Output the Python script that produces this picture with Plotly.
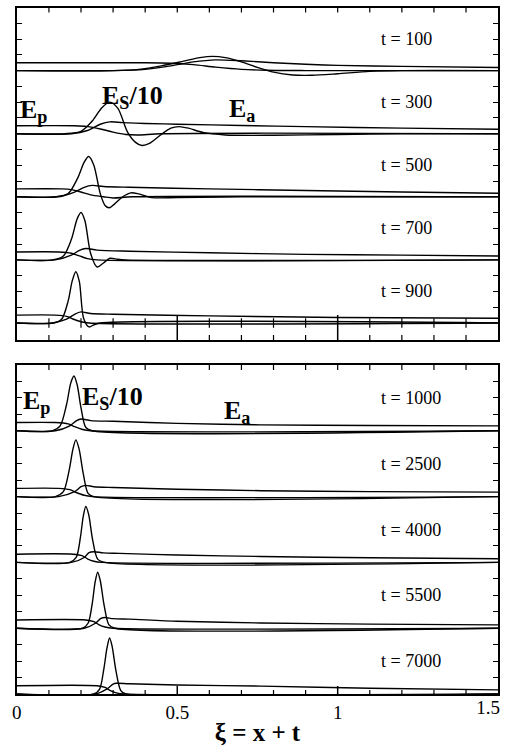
import plotly.graph_objects as go

# ---------------- data ----------------
# each curve: (xi values, field value in strip units; Es is shown divided by 10)
t100_Ep = ([0, 0.40, 0.48, 0.55, 0.62, 0.70, 0.78, 0.90, 1.5],
           [0.5, 0.5, 0.47, 0.38, 0.22, 0.08, 0.02, 0, 0])
t100_Es = ([0, 0.30, 0.38, 0.45, 0.52, 0.57, 0.61, 0.65, 0.70, 0.75, 0.80, 0.86, 0.92, 1.0, 1.1, 1.2, 1.5],
           [0, 0, 0.08, 0.3, 0.6, 0.82, 0.9, 0.82, 0.55, 0.2, -0.1, -0.28, -0.3, -0.2, -0.05, 0, 0])
t100_Ea = ([0, 0.30, 0.40, 0.48, 0.55, 0.62, 0.70, 0.80, 0.90, 1.0, 1.2, 1.5],
           [0, 0, 0.08, 0.3, 0.55, 0.68, 0.62, 0.5, 0.4, 0.33, 0.27, 0.2])

t300_Ep = ([0, 0.18, 0.22, 0.26, 0.30, 0.34, 0.38, 0.45, 1.5],
           [0.5, 0.5, 0.45, 0.3, 0.1, -0.05, -0.08, 0, 0])
t300_Es = ([0, 0.15, 0.20, 0.235, 0.265, 0.29, 0.315, 0.345, 0.37, 0.39, 0.415, 0.45, 0.48, 0.505, 0.535, 0.58, 0.65, 0.8, 1.0, 1.2, 1.5],
           [0, 0, 0.15, 0.8, 1.65, 2.0, 1.6, 0.1, -0.55, -0.75, -0.6, -0.05, 0.35, 0.45, 0.35, 0.08, -0.08, -0.1, -0.05, 0, 0])
t300_Ea = ([0, 0.17, 0.22, 0.26, 0.29, 0.33, 0.40, 0.50, 0.70, 0.90, 1.2, 1.5],
           [0, 0, 0.2, 0.6, 0.75, 0.7, 0.65, 0.6, 0.52, 0.45, 0.35, 0.28])

t500_Ep = ([0, 0.14, 0.17, 0.20, 0.23, 0.27, 0.30, 0.36, 1.5],
           [0.5, 0.5, 0.45, 0.3, 0.12, 0, -0.08, 0, 0])
t500_Es = ([0, 0.12, 0.16, 0.19, 0.21, 0.224, 0.24, 0.26, 0.275, 0.288, 0.305, 0.33, 0.355, 0.38, 0.42, 0.5, 0.7, 1.5],
           [0, 0, 0.2, 1.2, 2.2, 2.55, 2.0, 0.2, -0.55, -0.7, -0.45, 0, 0.25, 0.18, -0.05, -0.05, 0, 0])
t500_Ea = ([0, 0.13, 0.18, 0.21, 0.235, 0.27, 0.35, 0.60, 0.90, 1.2, 1.5],
           [0, 0, 0.3, 0.6, 0.72, 0.65, 0.6, 0.5, 0.4, 0.3, 0.22])

t700_Ep = ([0, 0.13, 0.17, 0.195, 0.22, 0.25, 1.5],
           [0.5, 0.5, 0.42, 0.25, 0.08, 0, 0])
t700_Es = ([0, 0.11, 0.145, 0.17, 0.188, 0.20, 0.212, 0.23, 0.25, 0.27, 0.29, 0.31, 0.34, 1.5],
           [0, 0, 0.25, 1.3, 2.6, 3.0, 2.5, 0.4, -0.45, -0.2, 0.1, 0.05, 0, 0])
t700_Ea = ([0, 0.12, 0.17, 0.195, 0.215, 0.25, 0.35, 0.60, 0.90, 1.2, 1.5],
           [0, 0, 0.3, 0.6, 0.72, 0.62, 0.55, 0.45, 0.35, 0.3, 0.25])

t900_Ep = ([0, 0.12, 0.155, 0.175, 0.20, 0.225, 1.5],
           [0.5, 0.5, 0.42, 0.25, 0.08, 0, 0])
t900_Es = ([0, 0.115, 0.14, 0.16, 0.173, 0.184, 0.195, 0.208, 0.225, 0.24, 0.26, 1.5],
           [0, 0, 0.25, 1.4, 2.7, 3.25, 2.6, 0.3, -0.25, -0.12, 0, 0])
t900_Ea = ([0, 0.11, 0.155, 0.18, 0.20, 0.23, 0.30, 0.60, 1.0, 1.5],
           [0, 0, 0.25, 0.55, 0.7, 0.6, 0.55, 0.45, 0.35, 0.3])

t1000_Ep = ([0, 0.12, 0.16, 0.18, 0.205, 0.23, 1.5],
            [0.5, 0.5, 0.42, 0.25, 0.08, 0, 0])
t1000_Es = ([0, 0.11, 0.135, 0.155, 0.168, 0.178, 0.188, 0.20, 0.215, 0.235, 1.5],
            [0, 0, 0.3, 1.6, 2.9, 3.33, 2.8, 1.4, 0.2, 0, 0])
t1000_Ea = ([0, 0.12, 0.165, 0.185, 0.20, 0.23, 0.30, 0.50, 0.76, 1.1, 1.5],
            [0, 0, 0.3, 0.6, 0.72, 0.62, 0.58, 0.45, 0.36, 0.32, 0.3])

t2500_Ep = ([0, 0.13, 0.165, 0.185, 0.21, 0.235, 1.5],
            [0.5, 0.5, 0.42, 0.25, 0.08, 0, 0])
t2500_Es = ([0, 0.12, 0.145, 0.163, 0.175, 0.184, 0.194, 0.207, 0.222, 0.24, 1.5],
            [0, 0, 0.3, 1.6, 2.9, 3.45, 2.9, 1.4, 0.2, 0, 0])
t2500_Ea = ([0, 0.13, 0.18, 0.20, 0.215, 0.24, 0.30, 0.50, 0.76, 1.1, 1.5],
            [0, 0, 0.3, 0.6, 0.68, 0.6, 0.55, 0.45, 0.36, 0.3, 0.27])

t4000_Ep = ([0, 0.175, 0.205, 0.22, 0.24, 0.265, 1.5],
            [0.5, 0.5, 0.4, 0.22, 0.07, 0, 0])
t4000_Es = ([0, 0.165, 0.185, 0.198, 0.207, 0.215, 0.224, 0.236, 0.252, 0.275, 1.5],
            [0, 0, 0.3, 1.5, 2.8, 3.4, 2.9, 1.4, 0.2, 0, 0])
t4000_Ea = ([0, 0.17, 0.21, 0.225, 0.24, 0.27, 0.32, 0.50, 0.76, 1.1, 1.5],
            [0, 0, 0.3, 0.6, 0.65, 0.58, 0.55, 0.45, 0.36, 0.28, 0.22])

t5500_Ep = ([0, 0.215, 0.24, 0.255, 0.275, 0.30, 1.5],
            [0.5, 0.5, 0.4, 0.22, 0.07, 0, 0])
t5500_Es = ([0, 0.205, 0.222, 0.235, 0.244, 0.252, 0.26, 0.272, 0.287, 0.305, 1.5],
            [0, 0, 0.3, 1.5, 2.8, 3.4, 2.9, 1.4, 0.2, 0, 0])
t5500_Ea = ([0, 0.21, 0.245, 0.262, 0.275, 0.30, 0.35, 0.50, 0.76, 1.1, 1.5],
            [0, 0, 0.3, 0.6, 0.65, 0.58, 0.55, 0.42, 0.32, 0.25, 0.2])

t7000_Ep = ([0, 0.25, 0.275, 0.29, 0.31, 0.335, 1.5],
            [0.5, 0.5, 0.4, 0.22, 0.07, 0, 0])
t7000_Es = ([0, 0.24, 0.258, 0.271, 0.281, 0.289, 0.297, 0.309, 0.324, 0.34, 1.5],
            [0, 0, 0.3, 1.5, 2.8, 3.4, 2.9, 1.4, 0.2, 0, 0])
t7000_Ea = ([0, 0.245, 0.28, 0.30, 0.31, 0.35, 0.50, 0.76, 1.1, 1.5],
            [0, 0, 0.3, 0.6, 0.65, 0.62, 0.55, 0.48, 0.35, 0.25])

top_times = [100, 300, 500, 700, 900]
bottom_times = [1000, 2500, 4000, 5500, 7000]
top_curves = [(t100_Ep, t100_Es, t100_Ea), (t300_Ep, t300_Es, t300_Ea),
              (t500_Ep, t500_Es, t500_Ea), (t700_Ep, t700_Es, t700_Ea),
              (t900_Ep, t900_Es, t900_Ea)]
bottom_curves = [(t1000_Ep, t1000_Es, t1000_Ea), (t2500_Ep, t2500_Es, t2500_Ea),
                 (t4000_Ep, t4000_Es, t4000_Ea), (t5500_Ep, t5500_Es, t5500_Ea),
                 (t7000_Ep, t7000_Es, t7000_Ea)]

x_tick_labels = ["0", "0.5", "1", "1.5"]
x_tick_vals = [0, 0.5, 1.0, 1.5]
minor_tick_x = [0.1, 0.2, 0.3, 0.4, 0.6, 0.7, 0.8, 0.9, 1.1, 1.2, 1.3, 1.4]
long_tick_x = [0.5, 1.0]

# ---------------- figure ----------------
W, H = 508, 750
SERIF = "Liberation Serif"
STRIP = 4.0  # strip height in data units
TOP_RANGE = [-1.08, 20]
BOT_RANGE = [0, 20]
TOP_PX = (7.5, 340)     # pixel top/bottom of upper panel
BOT_PX = (365, 694)     # pixel top/bottom of lower panel

def px_x(p):
    return p / W

def px_y(p):
    return 1 - p / H

fig = go.Figure()

def add_panel(curves, xa, ya):
    n = len(curves)
    for i, trio in enumerate(curves):
        off = STRIP * (n - 1 - i)
        for xs, ys in trio:
            fig.add_trace(go.Scatter(
                x=xs, y=[v + off for v in ys], xaxis=xa, yaxis=ya,
                mode="lines", line=dict(color="black", width=1.4, shape="spline", smoothing=0.8),
                showlegend=False, hoverinfo="skip"))

add_panel(top_curves, "x", "y")
add_panel(bottom_curves, "x2", "y2")

# invisible anchor so that the overlay axis carrying the 1.5 label is drawn
fig.add_trace(go.Scatter(x=[0, 1.5], y=[1, 1], xaxis="x5", yaxis="y2", mode="markers",
                         marker=dict(opacity=0, size=1), showlegend=False, hoverinfo="skip"))

# ---------------- x tick marks drawn as shapes ----------------
shapes = []
def tick(xv, xref, yref, y0, y1, width=1.2):
    shapes.append(dict(type="line", xref=xref, yref=yref, x0=xv, x1=xv, y0=y0, y1=y1,
                       line=dict(color="black", width=width), layer="above"))

top_h = TOP_PX[1] - TOP_PX[0]
bot_h = BOT_PX[1] - BOT_PX[0]
for xv in minor_tick_x + long_tick_x:
    tick(xv, "x", "y domain", 1, 1 - 5 / top_h)          # top frame, upper panel
    tick(xv, "x2", "y2 domain", 1, 1 - 5 / bot_h)        # top frame, lower panel
for xv in minor_tick_x:
    tick(xv, "x", "y domain", 0, 5 / top_h)              # bottom frame, upper panel
    tick(xv, "x", "y", -0.3, 0.3)                        # crossing ticks on lowest baseline
    tick(xv, "x2", "y2 domain", 0, 4 / bot_h)            # bottom frame, lower panel
for xv in long_tick_x:
    tick(xv, "x", "y", TOP_RANGE[0], 0.5, width=1.5)     # long ticks, upper panel
    tick(xv, "x2", "y2 domain", 0, 8 / bot_h, width=1.5)  # major ticks, lower panel

xdom = [px_x(12), px_x(500)]
n_top = len(top_times)
n_bot = len(bottom_times)
ytick_top = [STRIP * k + j for k in range(n_top) for j in (1, 2, 3)]
ytick_bot = [STRIP * k + j for k in range(n_bot) for j in (1, 2, 3)]

common_y = dict(showline=True, linecolor="black", linewidth=1.8, mirror="ticks",
                ticks="inside", ticklen=5, tickwidth=1.3, tickcolor="black",
                showticklabels=False, showgrid=False, zeroline=False, fixedrange=True)

fig.update_layout(
    width=W, height=H, margin=dict(l=0, r=0, t=0, b=0),
    paper_bgcolor="white", plot_bgcolor="white",
    xaxis=dict(domain=xdom, anchor="y", range=[0, 1.5], showline=True, mirror=True,
               linecolor="black", linewidth=1.8, showgrid=False, zeroline=False,
               ticks="", showticklabels=False),
    yaxis=dict(domain=[px_y(TOP_PX[1]), px_y(TOP_PX[0])], anchor="x", range=TOP_RANGE,
               tickvals=ytick_top, **common_y),
    xaxis2=dict(domain=xdom, anchor="y2", range=[0, 1.5], showline=True, mirror=True,
                linecolor="black", linewidth=1.8, showgrid=False, zeroline=False,
                tickmode="array", tickvals=x_tick_vals, ticktext=x_tick_labels[:3] + [""],
                ticks="",
                tickfont=dict(family=SERIF, size=19, color="black"),
                title=dict(text="<b>ξ = x + t</b>", font=dict(family=SERIF, size=25, color="black"),
                           standoff=2)),
    yaxis2=dict(domain=[px_y(BOT_PX[1]), px_y(BOT_PX[0])], anchor="x2", range=BOT_RANGE,
                tickvals=ytick_bot, **common_y),
    xaxis5=dict(overlaying="x2", anchor="y2", side="bottom", range=[0, 1.5],
                tickmode="array", tickvals=[1.5], ticktext=[x_tick_labels[3]], ticks="",
                ticklabelshift=-10, showline=False, showgrid=False, zeroline=False,
                tickfont=dict(family=SERIF, size=19, color="black")),
    shapes=shapes,
)

annotations = []
# time labels
for i, t in enumerate(top_times):
    off = STRIP * (n_top - 1 - i)
    annotations.append(dict(x=px_x(379), xref="paper", y=off + 2.0, yref="y",
                            text=f"t = {t}", showarrow=False, xanchor="left", yanchor="middle",
                            font=dict(family=SERIF, size=18, color="black")))
for i, t in enumerate(bottom_times):
    off = STRIP * (n_bot - 1 - i)
    annotations.append(dict(x=px_x(379), xref="paper", y=off + 2.0, yref="y2",
                            text=f"t = {t}", showarrow=False, xanchor="left", yanchor="middle",
                            font=dict(family=SERIF, size=18, color="black")))

lab_font = dict(family=SERIF, size=26, color="black")
def lab(text, xl, yc):
    annotations.append(dict(x=px_x(xl), xref="paper", y=px_y(yc), yref="paper", text=text,
                            showarrow=False, xanchor="left", yanchor="middle", font=lab_font))

lab("<b>E<sub>p</sub></b>", 13, 111)
lab("<b>E<sub>S</sub>/10</b>", 96, 97)
lab("<b>E<sub>a</sub></b>", 225, 110)
lab("<b>E<sub>p</sub></b>", 16, 402)
lab("<b>E<sub>S</sub>/10</b>", 76, 398)
lab("<b>E<sub>a</sub></b>", 220, 412)

fig.update_layout(annotations=annotations)
fig.write_html("out.html")
